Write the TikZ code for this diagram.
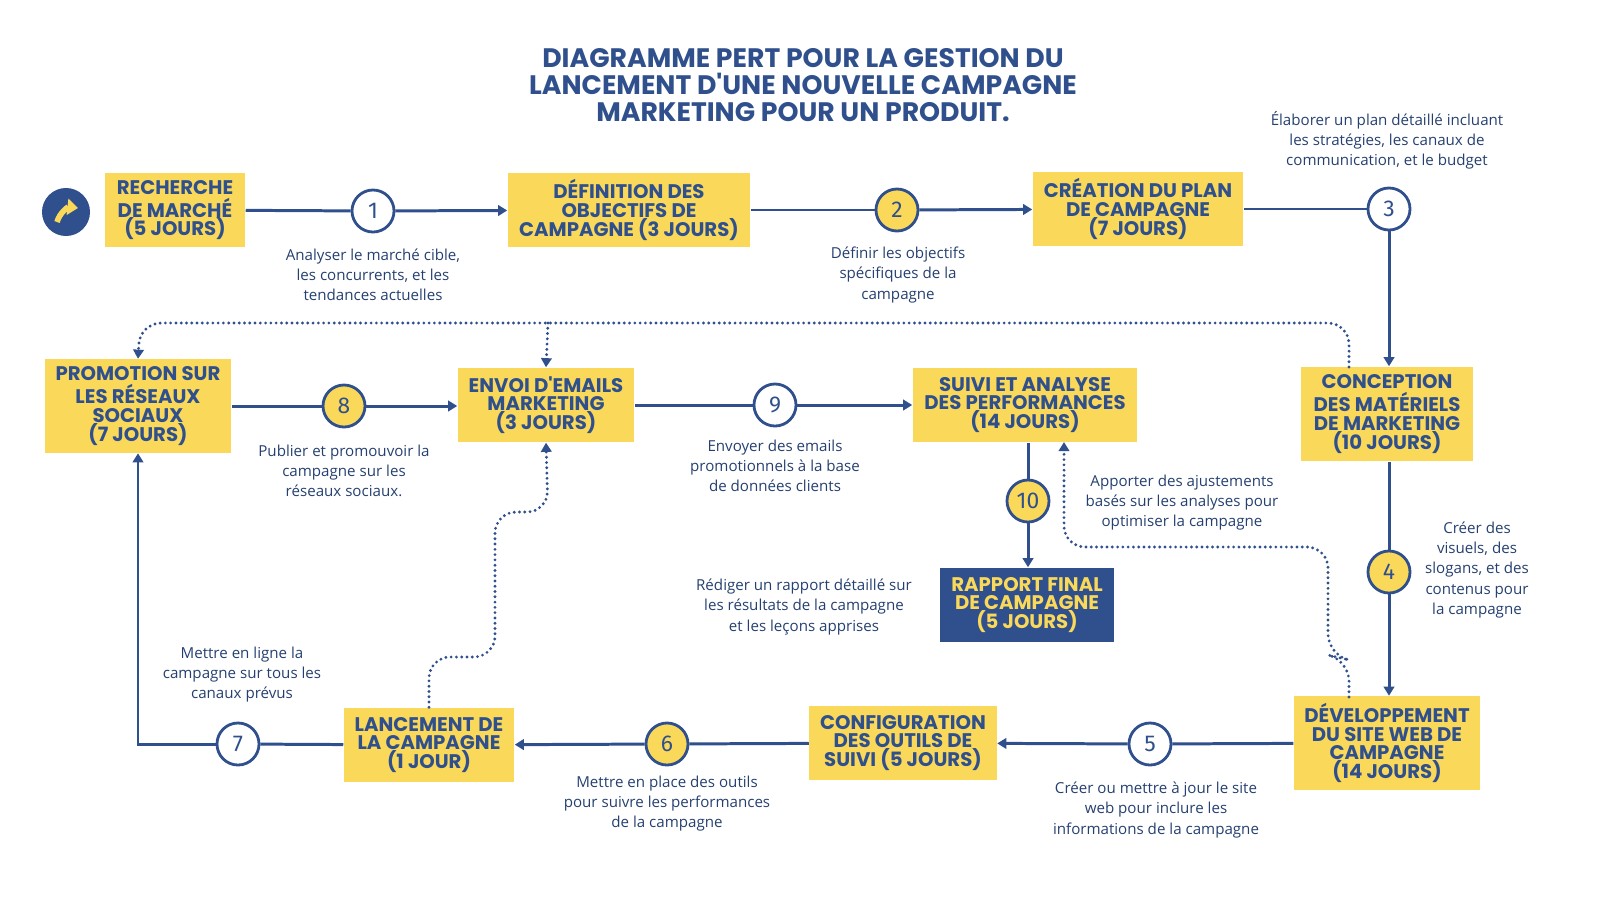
\documentclass[tikz,border=0pt]{standalone}
\usepackage{fontspec}
\setmainfont{Open Sans}
\newfontfamily\boxfont{Poppins}
\newfontfamily\numfont{Fira Sans}
\usetikzlibrary{arrows.meta}
\definecolor{pblue}{RGB}{47,80,140}
\definecolor{pyellow}{RGB}{250,216,90}
\begin{document}
\begin{tikzpicture}[x=0.01cm,y=-0.01cm,
	task/.style={fill=pyellow,inner sep=0pt,align=center,text=pblue,font=\boxfont\bfseries\fontsize{5.6}{5.3}\selectfont},
	evw/.style={circle,draw=pblue,line width=0.8pt,fill=white,minimum size=0.42cm,inner sep=0pt,text=pblue,font=\numfont\fontsize{6.5}{7}\selectfont},
	evy/.style={evw,fill=pyellow},
	note/.style={align=center,text=pblue!80!black,font=\fontsize{4.3}{5.7}\selectfont},
	link/.style={draw=pblue,line width=0.85pt},
	arr/.style={link,-{Triangle[length=2.6pt,width=3pt]}},
	dots/.style={pblue,line width=0.9pt,dash pattern=on 0pt off 1.5pt,line cap=round,rounded corners=6pt}]
	\useasboundingbox (0,0) rectangle (1600,900);
	% title
	\node[align=center,text=pblue,font=\boxfont\bfseries\fontsize{7.6}{7.7}\selectfont] (title) at (803,85)
		{DIAGRAMME PERT POUR LA GESTION DU\\LANCEMENT D'UNE NOUVELLE CAMPAGNE\\MARKETING POUR UN PRODUIT.};
	% start
	\node[circle,fill=pblue,minimum size=0.48cm] (start) at (66,212) {};
	\draw[pyellow,line width=1.6pt,-{Triangle[length=3pt,width=4.5pt]}] (57,222) to[bend left=40] (78,208);
	% tasks
	\node[task,minimum width=1.40cm,minimum height=0.74cm] (rech) at (175,210) {RECHERCHE\\DE MARCHÉ\\(5 JOURS)};
	\node[task,minimum width=2.42cm,minimum height=0.74cm] (obj) at (629,210) {DÉFINITION DES\\OBJECTIFS DE\\CAMPAGNE (3 JOURS)};
	\node[task,minimum width=2.10cm,minimum height=0.74cm] (plan) at (1138,209) {CRÉATION DU PLAN\\DE CAMPAGNE\\(7 JOURS)};
	\node[task,minimum width=1.72cm,minimum height=0.94cm] (mat) at (1387,414) {CONCEPTION\\DES MATÉRIELS\\DE MARKETING\\(10 JOURS)};
	\node[task,minimum width=1.86cm,minimum height=0.93cm] (web) at (1387,743) {DÉVELOPPEMENT\\DU SITE WEB DE\\CAMPAGNE\\(14 JOURS)};
	\node[task,minimum width=1.87cm,minimum height=0.74cm] (conf) at (903,743) {CONFIGURATION\\DES OUTILS DE\\SUIVI (5 JOURS)};
	\node[task,minimum width=1.70cm,minimum height=0.74cm] (lanc) at (429,745) {LANCEMENT DE\\LA CAMPAGNE\\(1 JOUR)};
	\node[task,minimum width=1.86cm,minimum height=0.93cm] (promo) at (138,406) {PROMOTION SUR\\LES RÉSEAUX\\SOCIAUX\\(7 JOURS)};
	\node[task,minimum width=1.76cm,minimum height=0.74cm] (mail) at (546,405) {ENVOI D'EMAILS\\MARKETING\\(3 JOURS)};
	\node[task,minimum width=2.24cm,minimum height=0.74cm] (suivi) at (1025,405) {SUIVI ET ANALYSE\\DES PERFORMANCES\\(14 JOURS)};
	\node[task,fill=pblue,text=pyellow,minimum width=1.73cm,minimum height=0.74cm] (rapp) at (1027,605) {RAPPORT FINAL\\DE CAMPAGNE\\(5 JOURS)};
	% events
	\node[evw] (e1) at (373,211) {1};
	\node[evy] (e2) at (897,210) {2};
	\node[evw] (e3) at (1389,209) {3};
	\node[evy] (e4) at (1389,572) {4};
	\node[evw] (e5) at (1150,744) {5};
	\node[evy] (e6) at (667,744) {6};
	\node[evw] (e7) at (238,744) {7};
	\node[evy] (e8) at (344,406) {8};
	\node[evw] (e9) at (775,405) {9};
	\node[evy] (e10) at (1028,501) {10};
	% connectors
	\draw[link] (rech) -- (e1); \draw[arr] (e1) -- (obj);
	\draw[link] (obj) -- (e2); \draw[arr] (e2) -- (plan);
	\draw[link] (plan) -- (e3); \draw[arr] (e3) -- (e3 |- mat.north);
	\draw[link] (mat.south -| e4) -- (e4); \draw[arr] (e4) -- (e4 |- web.north);
	\draw[link] (web) -- (e5); \draw[arr] (e5) -- (conf);
	\draw[link] (conf) -- (e6); \draw[arr] (e6) -- (lanc);
	\draw[link] (lanc) -- (e7); \draw[arr] (e7) -- (promo.south |- e7) -- (promo.south);
	\draw[link] (promo.east |- e8) -- (e8); \draw[arr] (e8) -- (e8 -| mail.west);
	\draw[link] (mail) -- (e9); \draw[arr] (e9) -- (suivi);
	\draw[link] (suivi.south -| e10) -- (e10); \draw[arr] (e10) -- (e10 |- rapp.north);
	% dotted dependencies
	\coordinate (m1) at (1349,367);
	\draw[dots,-{Triangle[length=2.6pt,width=3pt]}] (m1) -- (1349,323) -- (140,323) -- (promo.north);
	\draw[dots,-{Triangle[length=2.6pt,width=3pt]}] (548,323) -- (mail.north);
	\draw[dots,-{Triangle[length=2.6pt,width=3pt]}] (lanc.north) -- (429,657) -- (495,657) -- (495,512) -- (548,512) -- (mail.south);
	\coordinate (w1) at (1349,697);
	\draw[dots,-{Triangle[length=2.6pt,width=3pt]}] (w1) -- (1349,660) -- (1328,655) -- (1328,547) -- (1064,547) -- (1064,442);
	% notes
	\node[note] (n1) at (373,275) {Analyser le marché cible,\\les concurrents, et les\\tendances actuelles};
	\node[note] (n2) at (898,275) {Définir les objectifs\\spécifiques de la\\campagne};
	\node[note] (n3) at (1387,140) {Élaborer un plan détaillé incluant\\les stratégies, les canaux de\\communication, et le budget};
	\node[note] (n4) at (1477,570) {Créer des\\visuels, des\\slogans, et des\\contenus pour\\la campagne};
	\node[note] (n5) at (1156,810) {Créer ou mettre à jour le site\\web pour inclure les\\informations de la campagne};
	\node[note] (n6) at (667,804) {Mettre en place des outils\\pour suivre les performances\\de la campagne};
	\node[note] (n7) at (242,675) {Mettre en ligne la\\campagne sur tous les\\canaux prévus};
	\node[note] (n8) at (344,471) {Publier et promouvoir la\\campagne sur les\\réseaux sociaux.};
	\node[note] (n9) at (775,466) {Envoyer des emails\\promotionnels à la base\\de données clients};
	\node[note] (n10) at (1182,503) {Apporter des ajustements\\basés sur les analyses pour\\optimiser la campagne};
	\node[note] (n11) at (804,607) {Rédiger un rapport détaillé sur\\les résultats de la campagne\\et les leçons apprises};
\end{tikzpicture}
\end{document}
